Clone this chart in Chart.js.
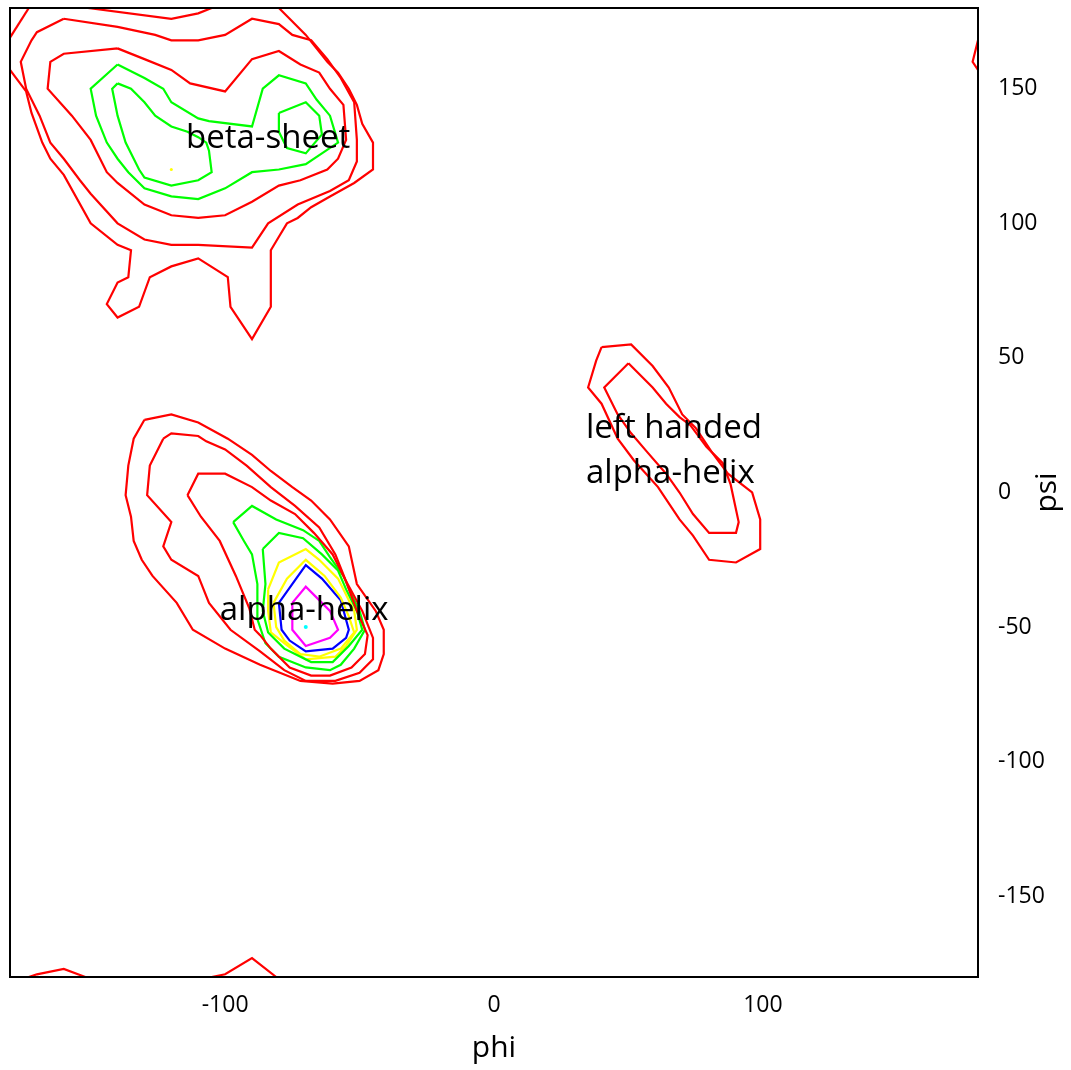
<!DOCTYPE html>
<html>
<head>
<meta charset="utf-8">
<title>Ramachandran plot</title>
<script src="https://cdn.jsdelivr.net/npm/chart.js@4.4.0/dist/chart.umd.min.js"></script>
<style>
  html, body { margin: 0; padding: 0; background: #fff; }
  #wrap { width: 1071px; height: 1070px; }
</style>
</head>
<body>
<div id="wrap"><canvas id="rama" width="1071" height="1070"></canvas></div>
<script>
// tick values on both axes
const phiTicks = [-100, 0, 100];
const psiTicks = [-150, -100, -50, 0, 50, 100, 150];

// contour lines as [phi, psi] pairs

// beta-sheet basin
const betaRed1 = [[-80,180],[-76,176],[-70,170],[-66,165],[-62,160],[-58,156],[-54,150],[-51,144],[-49,137],[-45,130],[-45,125],[-45,120],[-52,115],[-61,110],[-68,106],[-73,102],[-77,100],[-80,95],[-83,90],[-83,69],[-90,57],[-98,69],[-99,80],[-110,87],[-120,84],[-128,80],[-132,69],[-140,65],[-144,70],[-140,78],[-136,80],[-135,90],[-140,92],[-150,100],[-160,118],[-165,124],[-168,130],[-172,141],[-174,149],[-180,157]];
const betaRed1TopLeft = [[-173,180],[-180,169]];
const betaRed1Top = [[-151,180],[-120,176],[-110,178],[-105,180]];
const betaRed2 = [[-160,176],[-170,171],[-172,168],[-176,160],[-174,150],[-169,140],[-165,130],[-160,124],[-154,116],[-150,111],[-140,100],[-130,94],[-120,92],[-110,92],[-90,91],[-84,100],[-73,107],[-61,112],[-54,116],[-51,123],[-51,131],[-52,145],[-57,154],[-62,161],[-68,168],[-75,170],[-80,174],[-90,176],[-100,170],[-110,168],[-120,168],[-126,170],[-140,173]];
const betaRed3 = [[-140,165],[-160,163],[-165,160],[-166,150],[-157,140],[-150,131],[-144,119],[-140,115],[-130,107],[-120,103],[-110,102],[-100,103],[-90,108],[-80,114],[-72,116],[-62,120],[-58,124],[-55,131],[-56,144],[-61,150],[-65,156],[-72,159],[-80,164],[-90,161],[-100,149],[-113,152],[-120,157],[-130,161]];
const betaGreen1 = [[-140,159],[-150,150],[-148,140],[-144,130],[-140,124],[-136,119],[-130,113],[-120,110],[-110,109],[-100,113],[-90,119],[-80,120],[-70,122],[-64,126],[-58,130],[-61,140],[-66,146],[-70,152],[-80,155],[-86,150],[-90,136],[-106,138],[-110,139],[-120,145],[-123,150],[-130,154]];
const betaGreen2a = [[-140,152],[-142,150],[-140,140],[-137,130],[-132,120],[-130,117],[-120,114],[-110,116],[-105,119],[-106,127],[-107,130],[-110,132],[-114,134],[-120,136],[-126,140],[-130,145],[-135,150]];
const betaGreen2b = [[-80,141],[-70,145],[-65,140],[-64,133],[-70,126],[-77,128],[-80,134]];
const betaPeak = [[-120,120]];

// wrap-around pieces along the bottom and right edges
const bottomRed1 = [[-173,-180],[-170,-179],[-160,-177],[-152,-180]];
const bottomRed2 = [[-105,-180],[-100,-179],[-90,-173],[-81,-180]];
const cornerRed = [[180,168],[178,160],[180,157]];

// right-handed alpha-helix basin
const alphaRed1 = [[-130,27],[-120,29],[-110,26],[-99,20],[-90,14],[-83,8],[-75,2],[-68,-3],[-61,-10],[-54,-20],[-51,-34],[-44,-44],[-41,-51],[-41,-60],[-43,-66],[-50,-70],[-60,-71],[-72,-70],[-87,-64],[-100,-58],[-112,-51],[-118,-41],[-127,-31],[-131,-25],[-134,-18],[-135,-9],[-137,-1],[-136,10],[-134,20]];
const alphaRed2 = [[-123,20],[-120,22],[-110,21],[-107,19],[-100,16],[-92,10],[-83,2],[-74,-5],[-65,-13],[-59,-23],[-55,-33],[-49,-44],[-45,-54],[-45,-62],[-50,-67],[-59,-70],[-70,-70],[-78,-66],[-87,-59],[-98,-51],[-106,-41],[-110,-31],[-120,-25],[-123,-20],[-120,-11],[-129,-1],[-128,10]];
const alphaRed3 = [[-114,-1],[-110,7],[-100,7],[-90,2],[-83,-3],[-74,-8],[-67,-15],[-60,-23],[-55,-33],[-51,-44],[-47,-53],[-48,-60],[-53,-65],[-61,-68],[-68,-68],[-76,-65],[-83,-58],[-87,-53],[-89,-51],[-91,-43],[-96,-31],[-102,-18],[-109,-9]];
const alphaGreen1 = [[-97,-11],[-90,-5],[-81,-10],[-71,-14],[-65,-18],[-61,-24],[-56,-31],[-53,-38],[-50,-44],[-48,-51],[-52,-58],[-57,-64],[-61,-66],[-70,-65],[-80,-61],[-85,-56],[-88,-47],[-88,-34],[-90,-23],[-93,-18]];
const alphaGreen2 = [[-86,-21],[-80,-15],[-71,-17],[-64,-23],[-58,-29],[-55,-36],[-51,-44],[-49,-51],[-54,-57],[-60,-63],[-68,-63],[-78,-58],[-84,-52],[-86,-44],[-85,-34]];
const alphaYellow1 = [[-84,-36],[-80,-26],[-70,-21],[-65,-25],[-58,-32],[-55,-38],[-52,-44],[-51,-51],[-55,-57],[-59,-61],[-70,-62],[-78,-56],[-83,-52],[-84,-44]];
const alphaYellow2 = [[-82,-41],[-77,-32],[-70,-25],[-63,-31],[-57,-39],[-54,-46],[-52,-52],[-57,-58],[-65,-61],[-72,-60],[-78,-55],[-81,-50]];
const alphaBlue = [[-80,-41],[-70,-27],[-64,-32],[-57,-40],[-54,-51],[-55,-54],[-60,-58],[-70,-59],[-76,-55],[-79,-51]];
const alphaMagenta = [[-75,-41],[-70,-35],[-64,-41],[-61,-44],[-58,-51],[-61,-54],[-70,-57],[-75,-51]];
const alphaPeak = [[-70,-50]];

// left-handed alpha-helix basin
const leftRed1 = [[40,54],[51,55],[59,47],[65,39],[70,29],[75,24],[81,15],[87,7],[96,0],[99,-10],[99,-21],[90,-26],[80,-25],[74,-16],[69,-10],[61,2],[52,12],[46,20],[40,33],[35,39],[38,49]];
const leftRed2 = [[50,48],[59,39],[64,33],[69,28],[73,25],[79,17],[85,11],[88,3],[91,-11],[90,-15],[80,-15],[74,-8],[69,0],[64,7],[57,15],[51,22],[46,29],[41,39]];

// region names
const regionNames = [['beta-sheet'], ['alpha-helix'], ['left handed', 'alpha-helix']];

const RED = '#ff0000', GREEN = '#00ff00', YELLOW = '#ffff00',
      BLUE = '#0000ff', MAGENTA = '#ff00ff', CYAN = '#00ffff';

// [points, colour, closed]
const lines = [
  [betaRed1, RED, false], [betaRed1TopLeft, RED, false], [betaRed1Top, RED, false],
  [betaRed2, RED, true], [betaRed3, RED, true],
  [betaGreen1, GREEN, true], [betaGreen2a, GREEN, true], [betaGreen2b, GREEN, true],
  [bottomRed1, RED, false], [bottomRed2, RED, false], [cornerRed, RED, false],
  [alphaRed1, RED, true], [alphaRed2, RED, true], [alphaRed3, RED, true],
  [alphaGreen1, GREEN, true], [alphaGreen2, GREEN, true],
  [alphaYellow1, YELLOW, true], [alphaYellow2, YELLOW, true],
  [alphaBlue, BLUE, true], [alphaMagenta, MAGENTA, true],
  [leftRed1, RED, true], [leftRed2, RED, true]
];

const toXY = pts => pts.map(p => ({ x: p[0], y: p[1] }));

const datasets = lines.map(([pts, color, closed]) => ({
  data: toXY(closed ? pts.concat([pts[0]]) : pts),
  showLine: true,
  borderColor: color,
  borderWidth: 2.2,
  pointRadius: 0,
  fill: false,
  tension: 0
}));

// single-cell maxima
datasets.push({ data: toXY(betaPeak), showLine: false, pointRadius: 1.5, backgroundColor: YELLOW, borderWidth: 0 });
datasets.push({ data: toXY(alphaPeak), showLine: false, pointRadius: 2, backgroundColor: CYAN, borderWidth: 0 });

// where each region name sits, in degrees: [phi, psi, align]
const labelSpots = [[-84, 128, 'center'], [-70.6, -47.2, 'center'], [34.2, 20.1, 'left']];
const labelLineGap = 45;

const decorations = {
  id: 'decorations',
  afterDatasetsDraw(chart) {
    const { ctx, chartArea: a, scales } = chart;
    ctx.save();
    ctx.strokeStyle = '#000';
    ctx.lineWidth = 2;
    ctx.strokeRect(a.left, a.top, a.right - a.left, a.bottom - a.top);

    ctx.fillStyle = '#000';
    ctx.font = '33px "Open Sans"';
    ctx.textBaseline = 'alphabetic';
    regionNames.forEach((rows, i) => {
      const [phi, psi, align] = labelSpots[i];
      const x = scales.x.getPixelForValue(phi);
      const y = scales.y.getPixelForValue(psi);
      ctx.textAlign = align;
      rows.forEach((t, r) => ctx.fillText(t, x, y + r * labelLineGap));
    });

    // axis titles
    ctx.font = '30px "Open Sans"';
    ctx.textAlign = 'center';
    ctx.fillText('phi', (a.left + a.right) / 2, 1057);
    ctx.translate(1056, (a.top + a.bottom) / 2);
    ctx.rotate(-Math.PI / 2);
    ctx.fillText('psi', 0, 0);
    ctx.restore();
  }
};

const tickFont = { family: 'Open Sans', size: 23 };

new Chart(document.getElementById('rama'), {
  type: 'scatter',
  data: { datasets },
  options: {
    responsive: false,
    animation: false,
    events: [],
    layout: { padding: { left: 10, top: 8, right: 0, bottom: 0 } },
    plugins: { legend: { display: false }, tooltip: { enabled: false } },
    scales: {
      x: {
        type: 'linear', position: 'bottom', min: -180, max: 180,
        grid: { display: false, drawTicks: false },
        border: { display: false },
        ticks: { font: tickFont, color: '#000', padding: 15 },
        afterBuildTicks: s => { s.ticks = phiTicks.map(v => ({ value: v })); },
        afterFit: s => { s.height = 93; s.paddingLeft = 0; s.paddingRight = 0; }
      },
      y: {
        type: 'linear', position: 'right', min: -180, max: 180,
        grid: { display: false, drawTicks: false },
        border: { display: false },
        ticks: { font: tickFont, color: '#000', padding: 20 },
        afterBuildTicks: s => { s.ticks = psiTicks.map(v => ({ value: v })); },
        afterFit: s => { s.width = 93; s.paddingTop = 0; s.paddingBottom = 0; }
      }
    }
  },
  plugins: [decorations]
});
</script>
</body>
</html>
